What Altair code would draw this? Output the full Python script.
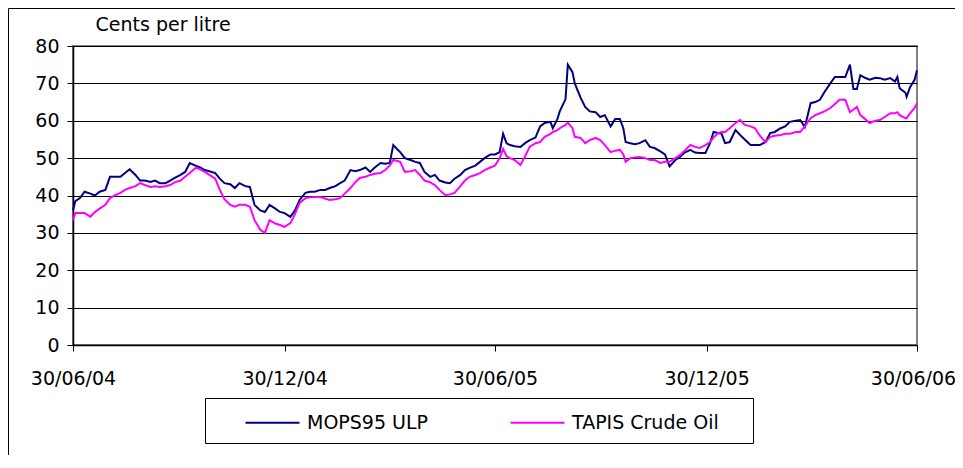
import altair as alt
import pandas as pd

# Day offsets from 30/06/2004
days = [
    0, 2, 6, 10, 15, 19, 23, 28, 32, 36,
    41, 45, 49, 54, 58, 62, 67, 71, 75, 80,
    84, 88, 93, 97, 101, 106, 110, 114, 118, 123,
    127, 131, 136, 140, 144, 149, 153, 157, 162, 166,
    170, 175, 179, 183, 188, 192, 196, 201, 205, 209,
    214, 218, 222, 227, 231, 235, 240, 244, 248, 253,
    257, 261, 266, 270, 274, 277, 280, 283, 287, 292,
    296, 300, 304, 309, 313, 317, 322, 326, 330, 335,
    339, 343, 348, 352, 356, 361, 365, 369, 372, 375,
    378, 382, 387, 391, 395, 400, 404, 408, 413, 415,
    419, 421, 426, 428, 432, 434, 439, 443, 447, 452,
    456, 460, 465, 469, 473, 476, 478, 482, 486, 490,
    495, 499, 503, 508, 512, 516, 521, 525, 529, 534,
    538, 542, 547, 551, 554, 558, 561, 564, 568, 573,
    577, 581, 586, 590, 594, 599, 603, 607, 612, 616,
    620, 625, 629, 633, 638, 642, 646, 650, 655, 659,
    663, 668, 672, 675, 678, 681, 685, 689, 694, 698,
    702, 707, 711, 713, 715, 720, 721, 724, 728, 730,
]

mops95_ulp = [
    36, 38.5, 39.3, 41, 40.5, 40, 41, 41.5, 45, 45,
    45, 46, 47, 45.5, 44, 44, 43.6, 44, 43.3, 43.3,
    44, 44.7, 45.5, 46.3, 48.7, 48, 47.5, 46.8, 46.5, 46,
    44.5, 43.3, 43, 42, 43.3, 42.5, 42.3, 37.5, 36, 35.6,
    37.5, 36.5, 35.6, 35.3, 34.3, 36, 38.8, 40.7, 41, 41,
    41.5, 41.5, 42, 42.5, 43.3, 44, 46.8, 46.5, 46.8, 47.5,
    46.3, 47.5, 48.7, 48.5, 48.7, 53.5, 52.5, 51.6, 50, 49.5,
    49, 48.7, 46.3, 45, 45.5, 44, 43.5, 43.3, 44.5, 45.5,
    46.8, 47.4, 48, 49, 50, 51, 51, 51.6, 56.5, 54,
    53.5, 53.2, 53, 54, 54.8, 55.5, 58.5, 59.4, 59.7, 58,
    60.5, 62.5, 65.8, 75, 73, 70, 66.2, 63.7, 62.5, 62.3,
    61, 61.5, 58.5, 60.5, 60.5, 58, 54.3, 54, 53.7, 54,
    54.8, 53, 52.7, 51.8, 51, 47.8, 49.5, 50.3, 51.5, 52.2,
    51.5, 51.4, 51.4, 54, 57, 56.7, 56.5, 54, 54.3, 57.5,
    56.2, 55, 53.5, 53.5, 53.5, 54.3, 56.7, 57, 58, 58.5,
    59.7, 60, 60.2, 58.3, 64.7, 65, 65.6, 67.7, 70, 71.7,
    71.7, 71.7, 75, 68.5, 68.5, 72.2, 71.5, 71, 71.5, 71.4,
    71, 71.4, 70.5, 71.7, 68.7, 67.5, 66.4, 69, 71, 73.5,
]

tapis_crude = [
    33.4, 35.3, 35.3, 35.3, 34.3, 35.6, 36.5, 37.5, 39.3, 40,
    40.7, 41.5, 42, 42.5, 43.3, 42.8, 42.3, 42.5, 42.3, 42.5,
    42.8, 43.5, 44, 45, 46, 47.4, 47, 46.3, 45.5, 44.5,
    41.5, 39, 37.5, 37, 37.5, 37.5, 37, 33.4, 30.8, 30,
    33.4, 32.5, 32.1, 31.6, 32.6, 35, 38, 39.3, 39.5, 39.6,
    39.6, 39.2, 38.8, 39, 39.3, 40.5, 42, 43.5, 44.7, 45,
    45.5, 45.8, 46, 46.8, 48, 49.5, 49.3, 49, 46.3, 46.5,
    46.8, 45.5, 44, 43.5, 42.8, 41.5, 40.1, 40.3, 40.7, 42.5,
    44, 45, 45.5, 46, 46.8, 47.5, 48, 50, 52.5, 50.5,
    50, 49.5, 48.2, 50.5, 53, 54, 54.3, 55.7, 56.5, 57,
    57.5, 58, 58.9, 59.5, 58, 55.7, 55.4, 54, 54.8, 55.4,
    54.8, 53.5, 51.6, 52, 52.2, 51, 49, 50, 50.2, 50.3,
    50, 49.5, 49.5, 48.7, 49, 49, 50, 50.8, 52, 53.5,
    53, 52.7, 53.5, 54.3, 55.5, 56.7, 57, 57, 58, 59.4,
    60.2, 58.9, 58.5, 58, 56, 54.3, 55.7, 56, 56.2, 56.5,
    56.5, 57, 57, 58.5, 60.7, 61.5, 62, 62.5, 63.4, 64.5,
    65.6, 65.6, 62.3, 63, 63.7, 61.5, 60.5, 59.4, 60, 60.2,
    61, 62, 62, 62.3, 61.5, 60.7, 60.7, 62, 63.5, 64.7,
]

series_names = ["MOPS95 ULP", "TAPIS Crude Oil"]
series_colors = ["#000080", "#FF00FF"]
y_ticks = [0, 10, 20, 30, 40, 50, 60, 70, 80]
x_ticks = [(2004, 6, 30), (2004, 12, 30), (2005, 6, 30), (2005, 12, 30), (2006, 6, 30)]
y_title = "Cents per litre"

FONT = "DejaVu Sans"
FS = 19

start = pd.Timestamp("2004-06-30")
dates = [(start + pd.Timedelta(days=d)).strftime("%Y-%m-%d") for d in days]
df = pd.DataFrame({
    "date": dates + dates,
    "value": mops95_ulp + tapis_crude,
    "series": [series_names[0]] * len(days) + [series_names[1]] * len(days),
})

tick_dt = [alt.DateTime(year=y, month=m, date=d, utc=True) for (y, m, d) in x_ticks]

lines = alt.Chart(df).mark_line(strokeWidth=2).encode(
    x=alt.X(
        "date:T",
        scale=alt.Scale(type="utc", domain=[tick_dt[0], tick_dt[-1]]),
        axis=alt.Axis(
            values=tick_dt, format="%d/%m/%y", title=None, grid=False,
            tickSize=6, labelPadding=18, labelFlush=False, labelOverlap=False,
            labelOffset={"condition": {"test": "datum.index >= 0.99", "value": -4}, "value": 0},
        ),
    ),
    y=alt.Y(
        "value:Q",
        scale=alt.Scale(domain=[0, 80], nice=False),
        axis=alt.Axis(
            values=y_ticks, title=y_title, grid=True, tickSize=6, labelPadding=8,
            titleAngle=0, titleX=22, titleY=-16, titleAlign="left",
            titleBaseline="alphabetic",
        ),
    ),
    color=alt.Color(
        "series:N",
        scale=alt.Scale(domain=series_names, range=series_colors),
        legend=alt.Legend(
            title=None, orient="none", legendX=132, legendY=352,
            direction="horizontal", symbolType="M-2,0H2", symbolSize=729,
            symbolStrokeWidth=2, labelOffset=20, columnPadding=51,
            padding=10, strokeColor="black", fillColor="white",
            symbolOffset=43, labelLimit=400,
            labelExpr="datum.value == 'TAPIS Crude Oil' ? datum.label + '\u00a0\u00a0\u00a0\u00a0\u200b' : datum.label",
        ),
    ),
)

frame = alt.Chart(pd.DataFrame({"a": [0]})).mark_rect(
    filled=False, stroke="black", strokeWidth=1
).encode(
    x=alt.value(-64.5), x2=alt.value(1000), y=alt.value(-37.5), y2=alt.value(600)
)

chart = alt.layer(frame, lines).properties(
    width=844, height=299,
    autosize=alt.AutoSizeParams(type="none"),
    padding={"left": 65, "top": 38, "right": 38, "bottom": 110},
).configure_view(
    stroke="#808080", strokeWidth=2
).configure_axis(
    labelFont=FONT, labelFontSize=FS, labelColor="black",
    titleFont=FONT, titleFontSize=FS, titleColor="black", titleFontWeight="normal",
    domainColor="black", domainWidth=1.5, tickColor="black", tickWidth=1,
    gridColor="black", gridWidth=1,
).configure_legend(
    labelFont=FONT, labelFontSize=FS, labelColor="black",
)

chart.save("out.html", embed_options={"renderer": "svg", "actions": False})
